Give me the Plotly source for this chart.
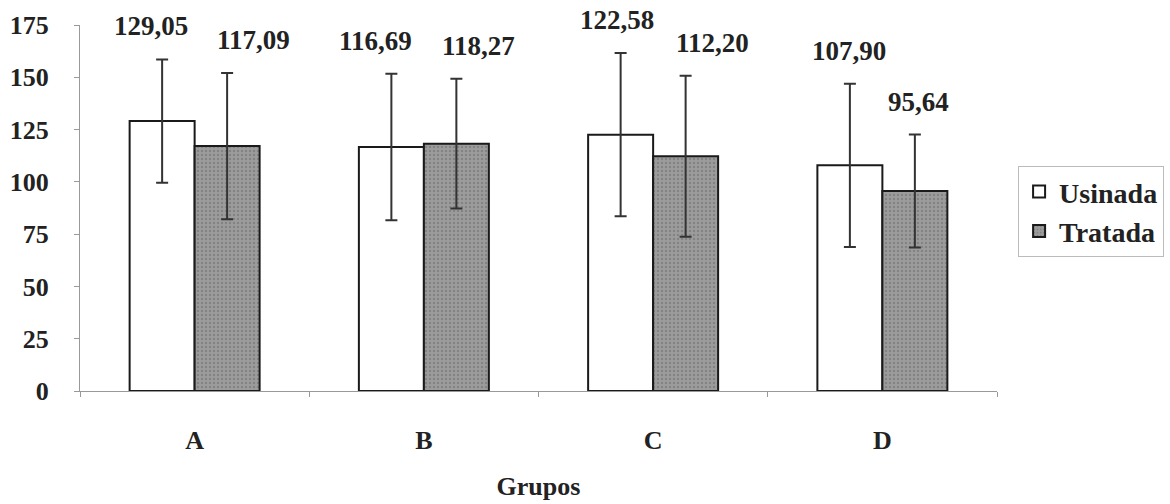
import plotly.graph_objects as go

groups = ["A", "B", "C", "D"]
usinada = [129.05, 116.69, 122.58, 107.90]
tratada = [117.09, 118.27, 112.20, 95.64]
usinada_err = [29.5, 35.0, 39.0, 39.0]
tratada_err = [35.0, 31.0, 38.5, 27.0]
y_ticks = [0, 25, 50, 75, 100, 125, 150, 175]

FONT = "Liberation Serif, Times New Roman, serif"

def fmt(v):
    return f"{v:.2f}".replace(".", ",")

fig = go.Figure()
fig.add_trace(go.Bar(
    name="<b>Usinada</b>", x=groups, y=usinada,
    marker=dict(color="white", line=dict(color="#1a1a1a", width=2)),
    error_y=dict(type="data", array=usinada_err, visible=True,
                 color="#333333", thickness=2, width=6),
))
fig.add_trace(go.Bar(
    name="<b>Tratada</b>", x=groups, y=tratada,
    marker=dict(color="#909090", line=dict(color="#1a1a1a", width=2),
                pattern=dict(shape=".", fgcolor="#6a6a6a", bgcolor="#9c9c9c", size=4, solidity=0.3)),
    error_y=dict(type="data", array=tratada_err, visible=True,
                 color="#333333", thickness=2, width=6),
))

# value labels above the error bars
u_dx = [-11, -15, -3, 0]
t_dx = [26, 22, 26, 3]
for i, g in enumerate(groups):
    fig.add_annotation(x=g, y=usinada[i] + usinada_err[i], xref="x", yref="y",
                       text=f"<b>{fmt(usinada[i])}</b>", showarrow=False,
                       xshift=-33 + u_dx[i], yshift=33,
                       font=dict(family=FONT, size=27, color="#222222"))
    fig.add_annotation(x=g, y=tratada[i] + tratada_err[i], xref="x", yref="y",
                       text=f"<b>{fmt(tratada[i])}</b>", showarrow=False,
                       xshift=33 + t_dx[i], yshift=33,
                       font=dict(family=FONT, size=27, color="#222222"))

fig.update_layout(
    width=1170, height=504,
    margin=dict(l=80, r=173, t=25, b=113, autoexpand=False),
    paper_bgcolor="white", plot_bgcolor="white",
    barmode="group", bargap=0.433, bargroupgap=0,
    font=dict(family=FONT, size=26, color="#222222"),
    showlegend=True,
    legend=dict(x=1.023, y=0.615, xanchor="left", yanchor="top",
                bordercolor="#bbbbbb", borderwidth=1, bgcolor="white",
                font=dict(family=FONT, size=28, color="#222222"),
                itemwidth=30, tracegroupgap=0),
)
fig.update_xaxes(
    showline=True, linecolor="#999999", linewidth=1,
    ticks="outside", tickson="boundaries", ticklen=5, tickcolor="#999999",
    ticklabelstandoff=26,
    tickfont=dict(family=FONT, size=26, color="#222222"),
    title=dict(text="<b>Grupos</b>", font=dict(family=FONT, size=26, color="#222222"), standoff=22),
    showgrid=False, tickprefix="<b>", ticksuffix="</b>",
)
fig.update_yaxes(
    range=[0, 175], tickvals=y_ticks, ticktext=[f"<b>{t}</b>" for t in y_ticks],
    showline=True, linecolor="#999999", linewidth=1,
    ticks="outside", ticklen=5, tickcolor="#999999",
    ticklabelstandoff=20,
    tickfont=dict(family=FONT, size=26, color="#222222"),
    showgrid=False, zeroline=False,
)
fig.write_html("out.html")
